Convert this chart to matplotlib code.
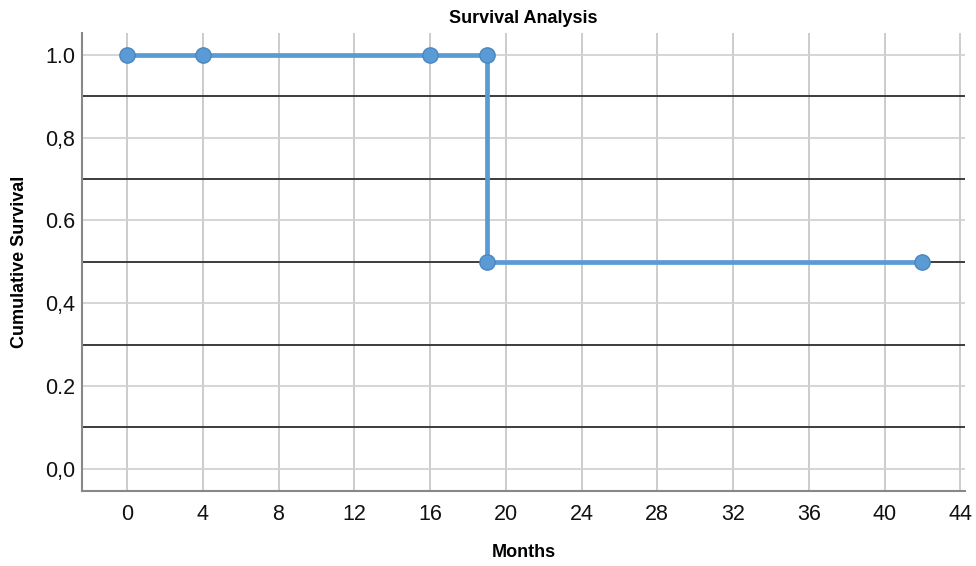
import matplotlib
matplotlib.use("Agg")
import matplotlib.pyplot as plt

plt.rcParams['font.family'] = ['Liberation Sans', 'DejaVu Sans']

# Data
months = [0, 4, 16, 19, 19, 42]
survival = [1.0, 1.0, 1.0, 1.0, 0.5, 0.5]
step_x = [0, 19, 42]
step_y = [1.0, 0.5, 0.5]
x_ticks = [0, 4, 8, 12, 16, 20, 24, 28, 32, 36, 40, 44]
y_ticks = [0.0, 0.2, 0.4, 0.6, 0.8, 1.0]
y_tick_labels = ["0,0", "0.2", "0,4", "0.6", "0,8", "1.0"]
ref_lines = [0.1, 0.3, 0.5, 0.7, 0.9]

fig = plt.figure(figsize=(9.76, 5.66), dpi=100)
ax = fig.add_axes([82/976, 1 - 491/566, (965-82)/976, (491-33)/566])

ax.set_xlim(-2.38, 44.25)
ax.set_ylim(-0.054, 1.053)

for xv in x_ticks:
    ax.axvline(xv, color='#c8c8c8', lw=1.3, zorder=1)
for yv in y_ticks:
    ax.axhline(yv, color='#d2d2d2', lw=1.3, zorder=1)
for yv in ref_lines:
    ax.axhline(yv, color='#3c3c3c', lw=1.4, zorder=2)

ax.step(step_x, step_y, where='post', color='#5b9bd5', lw=3.4, zorder=3)
ax.plot(months, survival, 'o', ms=11, mfc='#5b9bd5', mec='#4a86c0', mew=1, zorder=4)

ax.set_xticks(x_ticks)
ax.set_yticks(y_ticks)
ax.set_yticklabels(y_tick_labels)
ax.tick_params(axis='both', length=0, labelsize=15.5, colors='#111111')
ax.tick_params(axis='y', pad=5)
ax.tick_params(axis='x', pad=9)

for s in ['top', 'right']:
    ax.spines[s].set_visible(False)
for s in ['left', 'bottom']:
    ax.spines[s].set_color('#888888')
    ax.spines[s].set_linewidth(1.5)

ax.set_title("Survival Analysis", fontsize=13, fontweight='bold', pad=7)
ax.set_xlabel("Months", fontsize=13, fontweight='bold', labelpad=14)
ax.set_ylabel("Cumulative Survival", fontsize=13, fontweight='bold', labelpad=12)

fig.savefig("out.png", dpi=100)
